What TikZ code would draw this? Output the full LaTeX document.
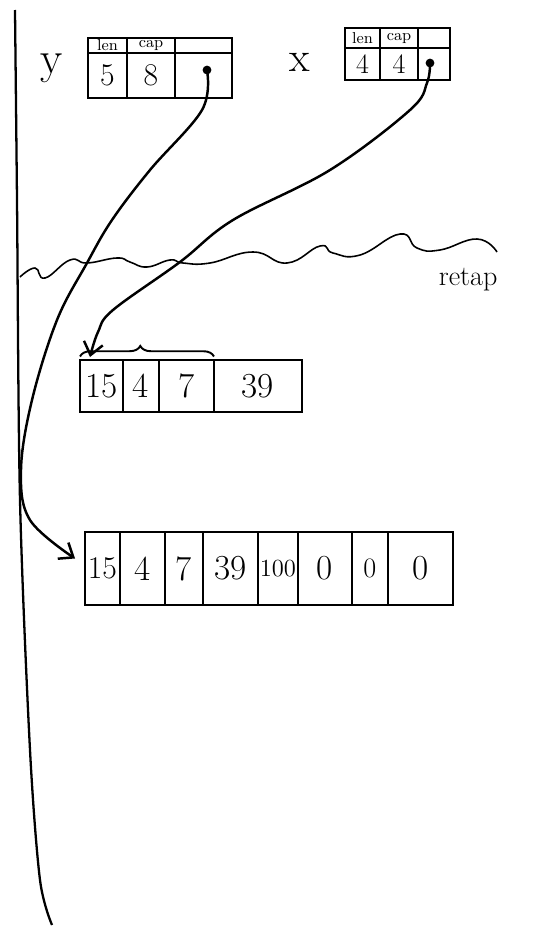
\documentclass[tikz,border=0pt]{standalone}
\usetikzlibrary{arrows.meta,decorations.pathreplacing}
\begin{document}
\begin{tikzpicture}[x=0.02cm, y=-0.02cm, line width=1.1pt,
  hd/.style={draw, inner sep=0pt, outer sep=0pt, anchor=north west, font=\fontsize{9}{9}\selectfont},
  val/.style={draw, inner sep=0pt, outer sep=0pt, anchor=north west, font=\fontsize{#1}{#1}\selectfont},
  lab/.style={font=\fontsize{#1}{#1}\selectfont},
  dot/.style={circle, fill, inner sep=0pt, minimum size=5pt},
  ptr/.style={line width=1.4pt, -{Straight Barb[length=7pt, width=11pt]}}
]
\useasboundingbox (0,0) rectangle (539,930);
% left margin line
\draw[line width=1.3pt] plot[smooth] coordinates {(15,10) (17,200) (20,500) (30,750) (40,880) (52,925)};

% struct y
\node[lab=26] (ylab) at (52,68) {y};
\node[hd, minimum width=0.78cm, minimum height=0.3cm] (ylenh) at (88,38) {len};
\node[hd, minimum width=0.96cm, minimum height=0.3cm] (ycaph) at (ylenh.north east) {cap};
\node[hd, minimum width=1.14cm, minimum height=0.3cm] (yptrh) at (ycaph.north east) {};
\node[val=18, minimum width=0.78cm, minimum height=0.9cm] (ylen) at (ylenh.south west) {5};
\node[val=18, minimum width=0.96cm, minimum height=0.9cm] (ycap) at (ycaph.south west) {8};
\node[val=18, minimum width=1.14cm, minimum height=0.9cm] (yptr) at (yptrh.south west) {};
\node[dot] (yp) at (207,70) {};

% struct x
\node[lab=24] (xlab) at (300,62) {x};
\node[hd, minimum width=0.7cm, minimum height=0.4cm] (xlenh) at (345,28) {len};
\node[hd, minimum width=0.76cm, minimum height=0.4cm] (xcaph) at (xlenh.north east) {cap};
\node[hd, minimum width=0.64cm, minimum height=0.4cm] (xptrh) at (xcaph.north east) {};
\node[val=16, minimum width=0.7cm, minimum height=0.64cm] (xlen) at (xlenh.south west) {4};
\node[val=16, minimum width=0.76cm, minimum height=0.64cm] (xcap) at (xcaph.south west) {4};
\node[val=16, minimum width=0.64cm, minimum height=0.64cm] (xptr) at (xptrh.south west) {};
\node[dot] (xp) at (430,63) {};

% realloc border
\draw[line width=0.9pt] plot[smooth, tension=0.8] coordinates {(20,277) (35,268) (45,278) (70,260) (87,263) (117,258)
  (130,262) (147,267) (170,260) (183,263) (210,263) (253,252) (287,263) (320,246) (333,253)
  (360,255) (400,234) (417,248) (440,250) (477,239) (497,252)};
\node[lab=16, anchor=west] (relab) at (432,280) {retap};

% old array
\node[val=20, minimum width=0.86cm, minimum height=1.04cm] (a1c1) at (80,360) {15};
\node[val=20, minimum width=0.72cm, minimum height=1.04cm] (a1c2) at (a1c1.north east) {4};
\node[val=20, minimum width=1.1cm, minimum height=1.04cm] (a1c3) at (a1c2.north east) {7};
\node[val=20, minimum width=1.76cm, minimum height=1.04cm] (a1c4) at (a1c3.north east) {39};
\draw[decorate, decoration={brace, amplitude=6pt, aspect=0.45, raise=2pt}] (a1c1.north west) -- (a1c3.north east);

% new array
\node[val=18, minimum width=0.7cm, minimum height=1.46cm] (a2c1) at (85,532) {15};
\node[val=20, minimum width=0.9cm, minimum height=1.46cm] (a2c2) at (a2c1.north east) {4};
\node[val=20, minimum width=0.76cm, minimum height=1.46cm] (a2c3) at (a2c2.north east) {7};
\node[val=20, minimum width=1.1cm, minimum height=1.46cm] (a2c4) at (a2c3.north east) {39};
\node[val=14, minimum width=0.8cm, minimum height=1.46cm] (a2c5) at (a2c4.north east) {100};
\node[val=20, minimum width=1.08cm, minimum height=1.46cm] (a2c6) at (a2c5.north east) {0};
\node[val=16, minimum width=0.72cm, minimum height=1.46cm] (a2c7) at (a2c6.north east) {0};
\node[val=20, minimum width=1.3cm, minimum height=1.46cm] (a2c8) at (a2c7.north east) {0};

% pointers
\draw[ptr] plot[smooth, tension=0.6] coordinates {(xp) (427,83) (410,110) (330,170) (233,220)
  (180,262) (113,310) (98,332) ([shift={(10,-3)}]a1c1.north west)};
\draw[ptr] plot[smooth, tension=0.6] coordinates {(yp) (202,110) (150,170) (112,220) (87,263)
  (57,320) (32,400) (21,470) (30,520) ([shift={(-10,-10)}]a2c1.west)};
\end{tikzpicture}
\end{document}
